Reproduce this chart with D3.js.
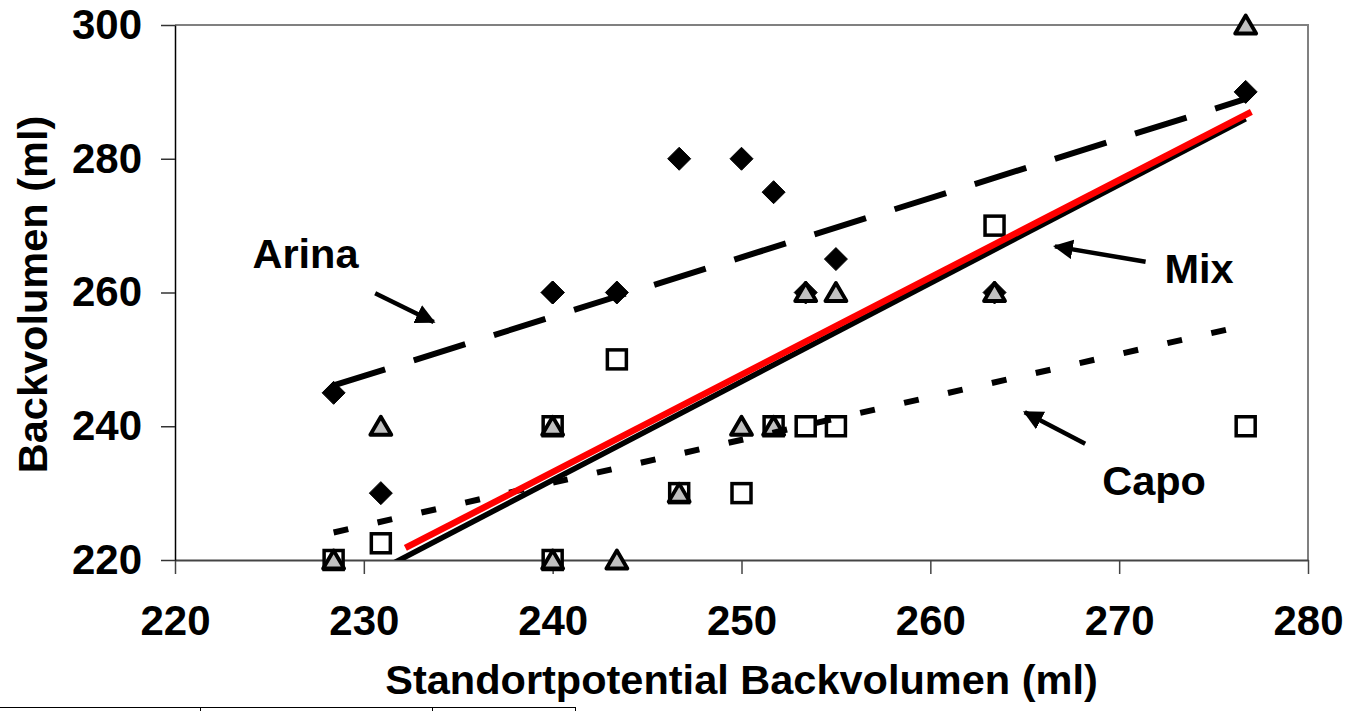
<!DOCTYPE html>
<html>
<head>
<meta charset="utf-8">
<script src="https://cdn.jsdelivr.net/npm/d3@7"></script>
<style>
  html, body { margin: 0; padding: 0; background: #fff; }
  svg { display: block; }
  text { font-family: "Liberation Sans", Arial, sans-serif; font-weight: bold; fill: #000; }
</style>
</head>
<body>
<svg id="chart" width="1347" height="711"></svg>
<script>
// ---- data ----
const xTicks = [220, 230, 240, 250, 260, 270, 280];
const yTicks = [220, 240, 260, 280, 300];
const sitePotential = [228.4, 230.9, 240.0, 240.0, 243.4, 246.7, 250.0, 251.7, 253.4, 255.0, 263.4, 276.7];
const arina = [245, 230, 260, 260, 260, 280, 280, 275, 260, 265, 260, 290];
const capo  = [220, 222.5, 240, 220, 250, 230, 230, 240, 240, 240, 270, 240];
const mix   = [220, 240, 240, 220, 220, 230, 240, 240, 260, 260, 260, 300];
const redLineX = [232.2, 277.0];
const redLineY = [221.8, 287.0];
const labelNames = ["Arina", "Mix", "Capo"];
const labelX = [224.1, 272.4, 269.1];
const labelY = [263.7, 261.4, 229.7];
const arrowFromX = [230.6, 271.4, 268.2];
const arrowFromY = [259.9, 264.6, 237.4];
const arrowToX = [233.7, 266.6, 265.0];
const arrowToY = [255.6, 266.9, 242.1];
const xTitle = "Standortpotential Backvolumen (ml)";
const yTitle = "Backvolumen (ml)";

// ---- layout ----
const svg = d3.select("#chart");
const L = 175, R = 1308, T = 25, B = 560;
const x = d3.scaleLinear().domain([220, 280]).range([L, R]);
const y = d3.scaleLinear().domain([220, 300]).range([B, T]);

svg.append("defs").append("clipPath").attr("id", "plotClip")
  .append("rect").attr("x", L).attr("y", T - 2).attr("width", R - L + 2).attr("height", B - T + 2);

// plot border (top / right)
svg.append("path")
  .attr("d", `M${L},${T}H${R}V${B}`)
  .attr("fill", "none").attr("stroke", "#808080").attr("stroke-width", 2);

// axes
const yAxis = d3.axisLeft(y).tickValues(yTicks).tickSize(14).tickSizeOuter(0).tickPadding(19).tickFormat(d3.format("d"));
const xAxis = d3.axisBottom(x).tickValues(xTicks).tickSize(14).tickSizeOuter(0).tickPadding(31).tickFormat(d3.format("d"));

const gx = svg.append("g").attr("transform", `translate(0,${B})`).call(xAxis);
gx.select(".domain").attr("stroke", "#444").attr("stroke-width", 2);
gx.selectAll(".tick line").attr("stroke", "#444").attr("stroke-width", 1.5);
gx.selectAll(".tick text").attr("font-size", 42).attr("font-family", "Liberation Sans, Arial, sans-serif").attr("font-weight", "bold").attr("fill", "#000");

const gy = svg.append("g").attr("transform", `translate(${L},0)`).call(yAxis);
gy.select(".domain").attr("stroke", "#000").attr("stroke-width", 1.5);
gy.selectAll(".tick line").attr("stroke", "#333").attr("stroke-width", 1.5);
gy.selectAll(".tick text").attr("font-size", 42).attr("font-family", "Liberation Sans, Arial, sans-serif").attr("font-weight", "bold").attr("fill", "#000");

// axis titles
svg.append("text").attr("x", (L + R) / 2).attr("y", 694).attr("text-anchor", "middle")
  .attr("font-size", 41.5).text(xTitle);
svg.append("text").attr("transform", `translate(47,${(T + B) / 2 + 2}) rotate(-90)`).attr("text-anchor", "middle")
  .attr("font-size", 41.5).text(yTitle);

// ---- markers ----
const pts = (ys) => sitePotential.map((v, i) => [v, ys[i]]);
const plot = svg.append("g");

plot.selectAll("path.arina").data(pts(arina)).join("path").attr("class", "arina")
  .attr("transform", d => `translate(${x(d[0])},${y(d[1])})`)
  .attr("d", "M0,-11.5L11.5,0L0,11.5L-11.5,0Z")
  .attr("fill", "#000").attr("stroke", "#000").attr("stroke-width", 1).attr("stroke-linejoin", "round");

plot.selectAll("rect.capo").data(pts(capo)).join("rect").attr("class", "capo")
  .attr("x", d => x(d[0]) - 9.5).attr("y", d => y(d[1]) - 9.5)
  .attr("width", 19).attr("height", 19)
  .attr("fill", "#fff").attr("stroke", "#000").attr("stroke-width", 3.5);

plot.selectAll("path.mix").data(pts(mix)).join("path").attr("class", "mix")
  .attr("transform", d => `translate(${x(d[0])},${y(d[1])})`)
  .attr("d", "M0,-9.5L10.5,8.5L-10.5,8.5Z")
  .attr("fill", "#c0c0c0").attr("stroke", "#000").attr("stroke-width", 3.8).attr("stroke-linejoin", "round");

// ---- trend lines (least squares of each series) ----
function fit(xs, ys) {
  const mx = d3.mean(xs), my = d3.mean(ys);
  const sxy = d3.sum(xs, (v, i) => (v - mx) * (ys[i] - my));
  const sxx = d3.sum(xs, v => (v - mx) * (v - mx));
  const b = sxy / sxx, a = my - b * mx;
  const x0 = d3.min(xs), x1 = d3.max(xs);
  return [[x0, a + b * x0], [x1, a + b * x1]];
}
const line = d3.line().x(d => x(d[0])).y(d => y(d[1]));
const lines = svg.append("g").attr("clip-path", "url(#plotClip)");

lines.append("path").attr("d", line(fit(sitePotential, arina)))
  .attr("fill", "none").attr("stroke", "#000").attr("stroke-width", 6).attr("stroke-dasharray", "54,30");
lines.append("path").attr("d", line(fit(sitePotential, capo)))
  .attr("fill", "none").attr("stroke", "#000").attr("stroke-width", 6).attr("stroke-dasharray", "15,30");
lines.append("path").attr("d", line(fit(sitePotential, mix)))
  .attr("fill", "none").attr("stroke", "#000").attr("stroke-width", 5.5);
lines.append("path").attr("d", line(redLineX.map((v, i) => [v, redLineY[i]])))
  .attr("fill", "none").attr("stroke", "#ff0000").attr("stroke-width", 6.5);

// ---- annotations ----
const defs = svg.select("defs");
defs.append("marker").attr("id", "arrowHead").attr("viewBox", "0 0 10 10")
  .attr("refX", 9).attr("refY", 5).attr("markerWidth", 4.4).attr("markerHeight", 4.4)
  .attr("markerUnits", "strokeWidth").attr("orient", "auto")
  .append("path").attr("d", "M0,0L10,5L0,10Z").attr("fill", "#000");

labelNames.forEach((name, i) => {
  svg.append("text").attr("x", x(labelX[i])).attr("y", y(labelY[i]))
    .attr("font-size", 41.5).text(name);
  svg.append("line")
    .attr("x1", x(arrowFromX[i])).attr("y1", y(arrowFromY[i]))
    .attr("x2", x(arrowToX[i])).attr("y2", y(arrowToY[i]))
    .attr("stroke", "#000").attr("stroke-width", 4.5).attr("marker-end", "url(#arrowHead)");
});

// thin table rule along the bottom edge of the page
const ruleStops = [0, 200, 432, 575];
svg.append("line").attr("x1", ruleStops[0]).attr("x2", ruleStops[3]).attr("y1", 707.5).attr("y2", 707.5)
  .attr("stroke", "#000").attr("stroke-width", 1);
svg.selectAll("line.rule").data(ruleStops.slice(1)).join("line").attr("class", "rule")
  .attr("x1", d => d + 0.5).attr("x2", d => d + 0.5).attr("y1", 707).attr("y2", 711)
  .attr("stroke", "#000").attr("stroke-width", 1);
</script>
</body>
</html>
